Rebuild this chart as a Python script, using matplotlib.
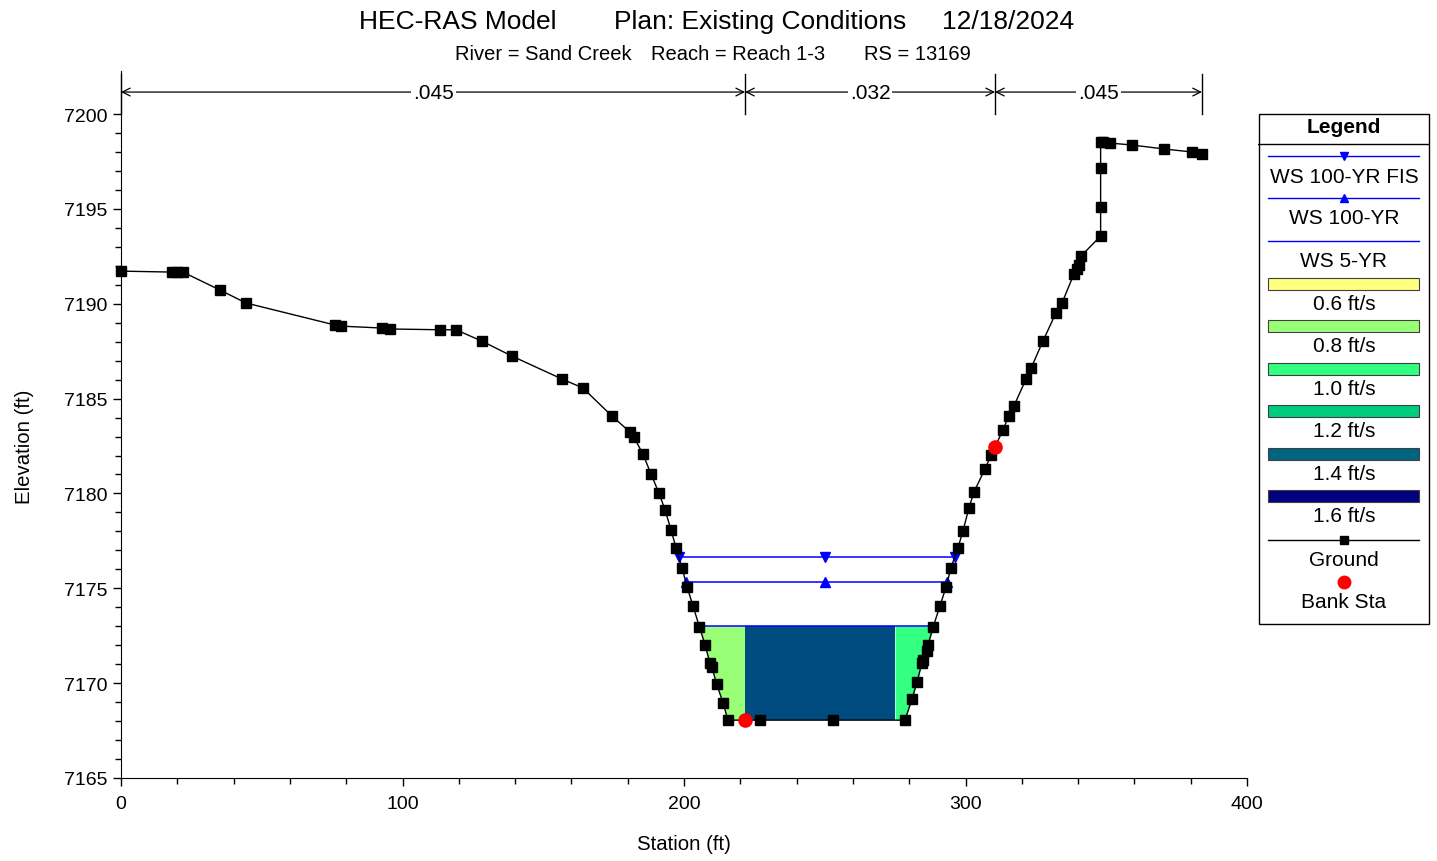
import numpy as np
import matplotlib.pyplot as plt
from matplotlib.colors import LinearSegmentedColormap
from matplotlib.patches import Rectangle

plt.rcParams['font.family'] = ['Liberation Sans', 'DejaVu Sans']

# Ground survey points (station, elevation)
sta = [0.0, 18.1, 19.9, 22.0, 35.2, 44.4, 76.0, 78.2, 92.7, 95.6,
       113.3, 119.0, 128.2, 138.9, 156.7, 164.1, 174.4, 180.8, 182.2, 185.4,
       188.3, 191.1, 193.3, 195.4, 197.2, 199.3, 201.1, 203.2, 205.5, 207.5,
       209.2, 209.9, 211.6, 213.9, 215.6, 227.0, 252.9, 278.5, 281.0, 282.8,
       284.5, 284.9, 286.3, 286.7, 288.5, 290.9, 293.1, 294.8, 297.3, 299.1,
       301.2, 303.0, 306.9, 309.1, 313.3, 315.4, 317.2, 321.5, 323.3, 327.5,
       332.1, 334.3, 338.5, 339.6, 340.3, 341.0, 348.0, 348.0, 348.0, 348.0,
       349.0, 351.3, 359.1, 370.5, 380.5, 384.0]
elev = [7191.72, 7191.67, 7191.67, 7191.67, 7190.72, 7190.04, 7188.88, 7188.82, 7188.72, 7188.67,
        7188.63, 7188.63, 7188.03, 7187.24, 7186.03, 7185.56, 7184.08, 7183.24, 7182.97, 7182.08,
        7181.02, 7180.02, 7179.12, 7178.07, 7177.12, 7176.07, 7175.07, 7174.07, 7172.96, 7172.01,
        7171.06, 7170.85, 7169.95, 7168.95, 7168.05, 7168.05, 7168.05, 7168.05, 7169.16, 7170.06,
        7171.06, 7171.22, 7171.69, 7172.01, 7172.96, 7174.06, 7175.07, 7176.07, 7177.12, 7178.02,
        7179.23, 7180.07, 7181.29, 7182.02, 7183.34, 7184.08, 7184.61, 7186.03, 7186.61, 7188.03,
        7189.51, 7190.04, 7191.57, 7191.83, 7192.04, 7192.51, 7193.57, 7195.10, 7197.15, 7198.52,
        7198.52, 7198.47, 7198.37, 7198.16, 7198.00, 7197.89]

bank_sta = [221.7, 310.5]

# Manning's n regions
n_breaks = [0.0, 221.7, 310.5, 384.0]
n_vals = ['.045', '.032', '.045']

# Water surfaces
ws_names = ['WS 100-YR FIS', 'WS 100-YR', 'WS 5-YR']
ws_elev = [7176.65, 7175.33, 7173.01]
ws_markers = ['v', '^', None]
ws_mark_sta = 250.0

# Velocity distribution for WS 5-YR
vel_breaks = [221.7, 275.0]
vel_slices = [0.8, 1.45, 1.0]

leg_vel = [0.6, 0.8, 1.0, 1.2, 1.4, 1.6]
leg_colors = ['#FFFF80', '#99FF77', '#33FF80', '#00CC80', '#006680', '#000080']

sta = np.array(sta)
elev = np.array(elev)

vel_cmap = LinearSegmentedColormap.from_list(
    'vel', [((v - leg_vel[0]) / (leg_vel[-1] - leg_vel[0]), c) for v, c in zip(leg_vel, leg_colors)])


def vel_color(v):
    return vel_cmap((v - leg_vel[0]) / (leg_vel[-1] - leg_vel[0]))


def ws_edges(z):
    imin = int(np.argmin(elev))
    i = imin
    while elev[i] < z:
        i -= 1
    xl = np.interp(z, [elev[i + 1], elev[i]], [sta[i + 1], sta[i]])
    j = imin
    while elev[j] < z:
        j += 1
    xr = np.interp(z, [elev[j - 1], elev[j]], [sta[j - 1], sta[j]])
    return xl, xr


fig = plt.figure(figsize=(14.37, 8.62), dpi=100)
W, H = 1437, 862
ax = fig.add_axes([121 / W, 1 - 779 / H, (1247 - 121) / W, (779 - 72) / H])

# velocity slices under the 5-yr water surface
z5 = ws_elev[2]
xl5, xr5 = ws_edges(z5)
edges = [xl5] + vel_breaks + [xr5]
for a, b, v in zip(edges[:-1], edges[1:], vel_slices):
    xs = np.concatenate([[a], sta[(sta > a) & (sta < b)], [b]])
    zs = np.interp(xs, sta, elev)
    ax.fill_between(xs, zs, z5, color=vel_color(v), lw=0, zorder=1)

# water surface lines
for z, m in zip(ws_elev, ws_markers):
    xl, xr = ws_edges(z)
    ax.plot([xl, xr], [z, z], color='#0000FF', lw=1.1, zorder=2)
    if m is not None:
        ax.plot([xl, ws_mark_sta, xr], [z, z, z], ls='none', marker=m,
                color='#0000FF', ms=7, zorder=3)

# ground
ax.plot(sta, elev, color='black', lw=1, marker='s', ms=6.5, zorder=4, clip_on=False)
ax.plot(bank_sta, np.interp(bank_sta, sta, elev), ls='none', marker='o',
        color='#FF0000', ms=9.5, zorder=5)

ax.set_xlim(0, 400)
ax.set_ylim(7165, 7202.27)
ax.spines['top'].set_visible(False)
ax.spines['right'].set_visible(False)
ax.set_xticks([0, 100, 200, 300, 400])
ax.set_xticks(np.arange(0, 401, 20), minor=True)
ax.set_yticks(np.arange(7165, 7201, 5))
ax.set_yticks(np.arange(7165, 7201, 1), minor=True)
ax.tick_params(which='major', length=6, width=1, labelsize=14)
ax.tick_params(which='minor', length=4, width=1)
ax.tick_params(axis='x', pad=6)

# Manning's n brackets
y_arrow = 7201.16
for x in n_breaks:
    ax.plot([x, x], [7200.0, 7202.1], color='black', lw=1, clip_on=False)
for a, b, n in zip(n_breaks[:-1], n_breaks[1:], n_vals):
    ax.annotate('', xy=(a, y_arrow), xytext=(b, y_arrow),
                arrowprops=dict(arrowstyle='<->', color='black', lw=0.9,
                                shrinkA=0, shrinkB=0, mutation_scale=14),
                annotation_clip=False)
    ax.text((a + b) / 2, y_arrow, n, ha='center', va='center', fontsize=15,
            bbox=dict(facecolor='white', edgecolor='none', pad=1.5), clip_on=False)

# titles and axis labels
fig.text(359 / W, 1 - 22 / H, 'HEC-RAS Model', fontsize=19, ha='left', va='center')
fig.text(614 / W, 1 - 22 / H, 'Plan: Existing Conditions', fontsize=19, ha='left', va='center')
fig.text(942 / W, 1 - 22 / H, '12/18/2024', fontsize=19, ha='left', va='center')
fig.text(455 / W, 1 - 55 / H, 'River = Sand Creek', fontsize=14.5, ha='left', va='center')
fig.text(651 / W, 1 - 55 / H, 'Reach = Reach 1-3', fontsize=14.5, ha='left', va='center')
fig.text(864 / W, 1 - 55 / H, 'RS = 13169', fontsize=14.5, ha='left', va='center')
fig.text(684 / W, 1 - 845 / H, 'Station (ft)', fontsize=14.7, ha='center', va='center')
fig.text(25 / W, 1 - 447 / H, 'Elevation (ft)', fontsize=14.7, ha='center', va='center',
         rotation=90)

# legend panel drawn in pixel units
lx0, lx1, ly0, ly1 = 1258, 1430, 114, 626
lg = fig.add_axes([lx0 / W, 1 - ly1 / H, (lx1 - lx0) / W, (ly1 - ly0) / H])
lg.set_xlim(lx0, lx1)
lg.set_ylim(ly1, ly0)
lg.axis('off')
lg.add_patch(Rectangle((lx0 + 1, ly0 + 1), lx1 - lx0 - 2, ly1 - ly0 - 2,
                       fill=False, edgecolor='black', lw=1, clip_on=False))
cx = (lx0 + lx1) / 2
x_a, x_b = 1268, 1419
lg.text(cx, 127, 'Legend', fontsize=15, fontweight='bold', ha='center', va='center')
lg.plot([lx0, lx1], [145, 145], color='black', lw=1)

ws_line_y = [157, 199, 242]
ws_text_y = [177, 218, 261]
for name, m, yl, yt in zip(ws_names, ws_markers, ws_line_y, ws_text_y):
    lg.plot([x_a, x_b], [yl, yl], color='#0000FF', lw=1)
    if m is not None:
        lg.plot([cx], [yl], marker=m, color='#0000FF', ms=6)
    lg.text(cx, yt, name, fontsize=15, ha='center', va='center')

patch_top = [279, 321, 364, 406, 449, 491]
for v, c, yp in zip(leg_vel, leg_colors, patch_top):
    lg.add_patch(Rectangle((x_a, yp), x_b - x_a, 12, facecolor=c,
                           edgecolor='#404040', lw=0.8))
    lg.text(cx, yp + 25, f'{v:.1f} ft/s', fontsize=15, ha='center', va='center')

lg.plot([x_a, x_b], [541, 541], color='black', lw=1)
lg.plot([cx], [541], marker='s', color='black', ms=6)
lg.text(cx, 560, 'Ground', fontsize=15, ha='center', va='center')
lg.plot([cx], [583], marker='o', color='#FF0000', ms=9)
lg.text(cx, 602, 'Bank Sta', fontsize=15, ha='center', va='center')

fig.savefig('out.png', dpi=100)
